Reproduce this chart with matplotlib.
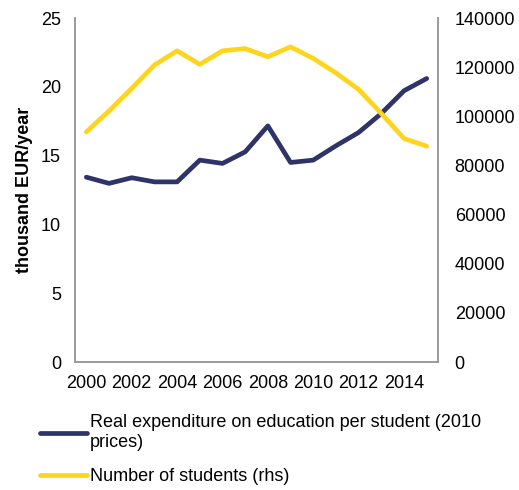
import matplotlib.pyplot as plt

plt.rcParams['font.family'] = ['Liberation Sans', 'DejaVu Sans']
plt.rcParams['font.size'] = 13

years = list(range(2000, 2016))
expenditure = [13.44, 12.99, 13.40, 13.10, 13.10, 14.68, 14.44, 15.28,
               17.17, 14.51, 14.68, 15.72, 16.69, 18.07, 19.72, 20.61]
students = [93700, 102200, 111400, 120900, 126700, 121200, 126700, 127600,
            124300, 128300, 123600, 117700, 111000, 101200, 91000, 87900]
xticks = list(range(2000, 2015, 2))

blue = '#2e3468'
yellow = '#fdd51e'

fig = plt.figure(figsize=(5.19, 4.90), dpi=100)
ax = fig.add_axes([0.1445, 0.261, 0.6995, 0.702])
ax2 = ax.twinx()

l1, = ax.plot(years, expenditure, color=blue, linewidth=3.4, solid_capstyle='round')
l2, = ax2.plot(years, students, color=yellow, linewidth=3.4, solid_capstyle='round')

ax.set_ylim(0, 25)
ax.set_yticks([0, 5, 10, 15, 20, 25])
ax2.set_ylim(0, 140000)
ax2.set_yticks(range(0, 140001, 20000))
ax.set_xlim(1999.5, 2015.5)
ax.set_xticks(xticks)

ax.set_ylabel('thousand EUR/year', fontweight='bold', fontsize=13, labelpad=6)

for a in (ax, ax2):
    a.spines['top'].set_visible(False)
    for s in ('left', 'right', 'bottom'):
        a.spines[s].set_color('#9a9a9a')
        a.spines[s].set_linewidth(1.2)
    a.tick_params(length=0, labelsize=13)
ax.tick_params(axis='y', pad=10)
ax2.tick_params(axis='y', pad=12)
ax.tick_params(axis='x', pad=9)

fig.legend([l1, l2],
           ['Real expenditure on education per student (2010\nprices)',
            'Number of students (rhs)'],
           loc='upper left', bbox_to_anchor=(0.046, 0.188), frameon=False,
           handlelength=2.6, handletextpad=0.17, labelspacing=0.95,
           fontsize=13)

fig.savefig('out.png', dpi=100)
